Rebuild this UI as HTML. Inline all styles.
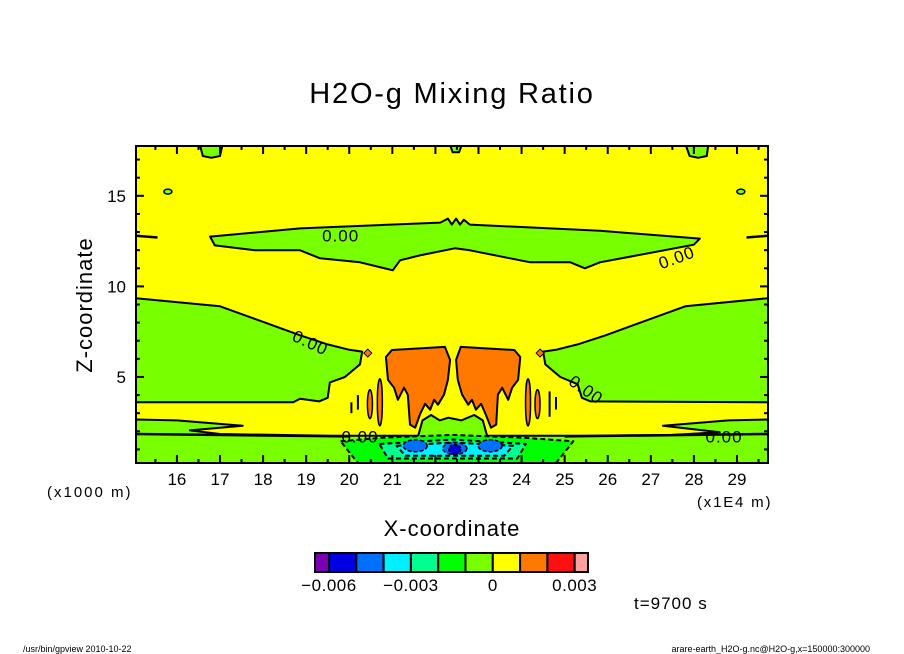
<!DOCTYPE html>
<html><head><meta charset="utf-8"><style>
html,body{margin:0;padding:0;background:#fff;}
svg{display:block;}
text{font-family:"Liberation Sans",sans-serif;fill:#000;}
</style></head><body>
<svg id="chart" width="904" height="654" viewBox="0 0 904 654" xmlns="http://www.w3.org/2000/svg">
<text x="452" y="103" font-size="29" text-anchor="middle" letter-spacing="1.8">H2O-g Mixing Ratio</text>
<g id="plot"></g>
<g id="axes"></g>
<g id="cbar"></g>
<text x="0" y="0" font-size="22" text-anchor="middle" transform="translate(92,305) rotate(-90)" letter-spacing="1">Z-coordinate</text>
<text x="452" y="536" font-size="22" text-anchor="middle" letter-spacing="1">X-coordinate</text>
<text x="47" y="497" font-size="15" letter-spacing="2">(x1000 m)</text>
<text x="697" y="507" font-size="15" letter-spacing="1.8">(x1E4 m)</text>
<text x="634" y="609" font-size="17" letter-spacing="1">t=9700 s</text>
<text x="23" y="652" font-size="9">/usr/bin/gpview  2010-10-22</text>
<text x="870" y="652" font-size="9" text-anchor="end">arare-earth_H2O-g.nc@H2O-g,x=150000:300000</text>
</svg>
<script>
// ---- data (x in 1E4 m, z in 1000 m) ----
const xDomain = [15.05, 29.72];
const zDomain = [0.25, 17.75];
const xTicks = [16,17,18,19,20,21,22,23,24,25,26,27,28,29];
const zTicks = [5,10,15];
const levelColors = ["#7800b0","#0000e0","#0070ff","#00f0ff","#00ff90","#00ff00","#78ff00","#ffff00","#ff7800","#ff1010","#ffa0a0"];
const cbarLabels = ["-0.006","-0.003","0","0.003"];
const cbarLabelIdx = [1,4,7,10];
const topBlobL = [[16.54,17.75],[16.6,17.2],[16.8,17.1],[17.0,17.2],[17.05,17.75]];
const topBlobR = [[27.82,17.75],[27.9,17.2],[28.1,17.1],[28.3,17.2],[28.33,17.75]];
const topBlobC = [[22.35,17.75],[22.4,17.4],[22.55,17.4],[22.6,17.75]];
const upperBand = [[16.77,12.75],[18.86,13.2],[22.11,13.52],[22.29,13.74],[22.38,13.41],[22.48,13.74],[22.57,13.41],[22.66,13.68],[22.8,13.41],[25.82,13.07],[28.14,12.64],[28.0,12.3],[25.82,11.33],[25.47,11.0],[25.13,11.33],[24.2,11.33],[23.5,11.66],[22.8,11.99],[22.45,12.1],[21.64,11.71],[21.18,11.44],[21.01,10.89],[20.25,11.33],[19.32,11.55],[18.86,11.99],[17.81,11.99],[16.88,12.26]];
const leftGreen = [[15.05,9.35],[17.0,8.9],[18.86,7.3],[19.5,6.8],[20.0,6.5],[20.3,6.4],[20.25,5.7],[19.9,5.0],[19.55,4.7],[19.5,3.85],[19.3,3.65],[18.86,3.8],[18.7,3.6],[15.05,3.6]];
const rightGreen = [[29.72,9.35],[27.8,8.9],[25.95,7.3],[25.3,6.8],[24.8,6.5],[24.5,6.4],[24.55,5.7],[24.9,5.0],[25.3,4.6],[25.4,3.85],[25.6,3.65],[29.72,3.6]];
const bottomGreen = [[15.05,2.65],[16.0,2.6],[17.53,2.31],[16.3,2.05],[17.0,1.85],[19.55,1.75],[21.6,1.75],[21.7,2.6],[21.9,2.9],[22.1,2.6],[22.3,2.75],[22.6,2.6],[22.9,2.9],[23.1,2.6],[23.2,1.75],[25.5,1.75],[27.5,1.8],[28.6,1.95],[27.28,2.31],[28.8,2.6],[29.72,2.65],[29.72,0.25],[15.05,0.25]];
const greenLevel = [[19.8,1.45],[20.8,1.65],[22.4,1.8],[24.0,1.65],[25.2,1.45],[24.8,0.25],[20.2,0.25]];
const mintLevel = [[20.7,1.3],[22.4,1.55],[24.1,1.3],[23.9,0.5],[20.9,0.5]];
const cyanLevel = [[21.1,1.2],[22.4,1.38],[23.8,1.2],[23.6,0.65],[21.3,0.65]];
const blueBlobs = [[21.53,1.2],[22.45,1.05],[23.27,1.2]];
const darkBlue = [[22.45,1.0]];
const orangeL = [[20.85,6.1],[20.99,6.49],[22.22,6.66],[22.34,5.94],[22.29,4.84],[22.2,4.02],[22.06,3.47],[21.97,3.74],[21.88,3.19],[21.76,3.52],[21.64,2.92],[21.53,2.2],[21.41,2.37],[21.36,4.02],[21.27,4.4],[21.13,3.74],[21.04,4.4],[20.9,4.84]];
const orangeR = [[23.97,6.1],[23.83,6.49],[22.59,6.66],[22.48,5.94],[22.52,4.84],[22.62,4.02],[22.76,3.47],[22.85,3.74],[22.94,3.19],[23.06,3.52],[23.17,2.92],[23.29,2.2],[23.41,2.37],[23.45,4.02],[23.55,4.4],[23.69,3.74],[23.78,4.4],[23.92,4.84]];
const orangeStreaks = [[20.48,3.5,0.8],[20.71,3.6,1.3],[24.15,3.6,1.3],[24.37,3.5,0.8]];
const diamonds = [[20.43,6.32],[24.43,6.32]];
const circles = [[15.79,15.23],[29.09,15.23]];
const contourSegs = [[[20.2,4.0],[20.2,3.2]],[[24.65,4.2],[24.65,2.8]],[[24.8,3.9],[24.8,3.2]],[[20.05,3.6],[20.05,3.0]]];
const zeroLabels = [[19.8,12.8,0],[19.1,6.9,25],[27.6,11.6,-20],[25.5,4.3,35],[20.25,1.7,0],[28.7,1.7,0]];

// ---- scales ----
const L=136,R=768,T=146,B=463;
function sx(x){return L+(x-xDomain[0])/(xDomain[1]-xDomain[0])*(R-L);}
function sz(z){return B-(z-zDomain[0])/(zDomain[1]-zDomain[0])*(B-T);}
const NS="http://www.w3.org/2000/svg";
const plot=document.getElementById('plot');
const axes=document.getElementById('axes');
const cbar=document.getElementById('cbar');
function mk(tag,attrs,parent){const e=document.createElementNS(NS,tag);for(const k in attrs)e.setAttribute(k,attrs[k]);parent.appendChild(e);return e;}
function pts(a){return a.map(p=>sx(p[0]).toFixed(1)+','+sz(p[1]).toFixed(1)).join(' ');}

const clip=mk('clipPath',{id:'pc'},document.getElementById('chart'));
mk('rect',{x:L,y:T,width:R-L,height:B-T},clip);
plot.setAttribute('clip-path','url(#pc)');

let bg=mk('rect',{x:L,y:T,width:R-L,height:B-T,fill:levelColors[7]},plot);



function poly(a,fill,name,dash){const e=mk('polygon',{points:pts(a),fill:fill,stroke:'#000','stroke-width':2,'stroke-linejoin':'round'},plot);
if(dash)e.setAttribute('stroke-dasharray','5,3');

return e;}
const g=levelColors[6];
poly(topBlobL,g,'top-green-left');
poly(topBlobR,g,'top-green-right');
poly(topBlobC,g,'top-green-center');
poly(upperBand,g,'upper-green-band');
poly(leftGreen,g,'left-green-region');
poly(rightGreen,g,'right-green-region');
poly(bottomGreen,g,'bottom-green-region');
poly(greenLevel,levelColors[5],'green-level-region',true);
poly(mintLevel,levelColors[4],'mint-level-region',true);
poly(cyanLevel,levelColors[3],'cyan-level-region',true);
blueBlobs.forEach(b=>{const e=mk('ellipse',{cx:sx(b[0]),cy:sz(b[1]),rx:12,ry:6,fill:levelColors[2],stroke:'#000','stroke-width':1.5,'stroke-dasharray':'4,2'},plot);

});
darkBlue.forEach(b=>{const e=mk('ellipse',{cx:sx(b[0]),cy:sz(b[1]),rx:6,ry:5,fill:levelColors[1],stroke:'#000','stroke-width':1.5,'stroke-dasharray':'3,2'},plot);

});
poly(orangeL,levelColors[8],'orange-left-plume');
poly(orangeR,levelColors[8],'orange-right-plume');
orangeStreaks.forEach(s=>{const e=mk('ellipse',{cx:sx(s[0]),cy:sz(s[1]),rx:2.5,ry:(sz(0)-sz(s[2])),fill:levelColors[8],stroke:'#000','stroke-width':1.5},plot);

});
diamonds.forEach(d=>{const cx=sx(d[0]),cy=sz(d[1]);const e=mk('polygon',{points:`${cx-4},${cy} ${cx},${cy-4} ${cx+4},${cy} ${cx},${cy+4}`,fill:levelColors[8],stroke:'#000','stroke-width':1},plot);

});
circles.forEach(c=>{const e=mk('ellipse',{cx:sx(c[0]),cy:sz(c[1]),rx:4,ry:2.5,fill:g,stroke:'#000','stroke-width':1.5},plot);

});
contourSegs.forEach(s=>{const e=mk('polyline',{points:pts(s),fill:'none',stroke:'#000','stroke-width':2},plot);

});
[[[15.05,12.8],[15.55,12.7]],[[29.72,12.8],[29.22,12.7]],[[15.05,1.85],[20.0,1.72]],[[29.72,1.85],[25.0,1.72]]].forEach(s=>{const e=mk('polyline',{points:pts(s),fill:'none',stroke:'#000','stroke-width':2.5},plot);

});
zeroLabels.forEach(l=>{const x=sx(l[0]),y=sz(l[1]);const t=mk('text',{x:x,y:y+6,'font-size':17,'letter-spacing':1,'text-anchor':'middle',transform:`rotate(${l[2]},${x},${y})`},plot);t.textContent='0.00';

});

// ---- axes ----
let fr=mk('rect',{x:L,y:T,width:R-L,height:B-T,fill:'none',stroke:'#000','stroke-width':2},axes);


for(let v=15.5;v<=29.6;v+=0.5){const x=sx(v);const maj=Math.abs(v-Math.round(v))<0.01;const len=maj?8:4;
const a=mk('line',{x1:x,y1:B,x2:x,y2:B-len,stroke:'#000','stroke-width':2},axes);


const b=mk('line',{x1:x,y1:T,x2:x,y2:T+len,stroke:'#000','stroke-width':2},axes);

}
xTicks.forEach(v=>{const t=mk('text',{x:sx(v),y:B+22,'font-size':17,'text-anchor':'middle'},axes);t.textContent=v;

});
for(let v=1;v<=17;v++){const y=sz(v);const len=(v%5===0)?8:4;
const a=mk('line',{x1:L,y1:y,x2:L+len,y2:y,stroke:'#000','stroke-width':2},axes);


const b=mk('line',{x1:R,y1:y,x2:R-len,y2:y,stroke:'#000','stroke-width':2},axes);

}
zTicks.forEach(v=>{const t=mk('text',{x:L-10,y:sz(v)+6,'font-size':17,'text-anchor':'end'},axes);t.textContent=v;

});

// ---- colorbar ----
const cbL=315,cbR=588,cbT=553,cbB=572;
const edges=[cbL,329];for(let i=1;i<=9;i++)edges.push(329+i*27.3);edges.push(cbR);
levelColors.forEach((c,i)=>{const e=mk('rect',{x:edges[i],y:cbT,width:edges[i+1]-edges[i],height:cbB-cbT,fill:c,stroke:'#000','stroke-width':2},cbar);

});
cbarLabels.forEach((s,i)=>{const t=mk('text',{x:edges[cbarLabelIdx[i]],y:591,'font-size':17,'letter-spacing':0.5,'text-anchor':'middle'},cbar);t.textContent=s.replace('-','\u2212');

});
</script>
</body></html>
